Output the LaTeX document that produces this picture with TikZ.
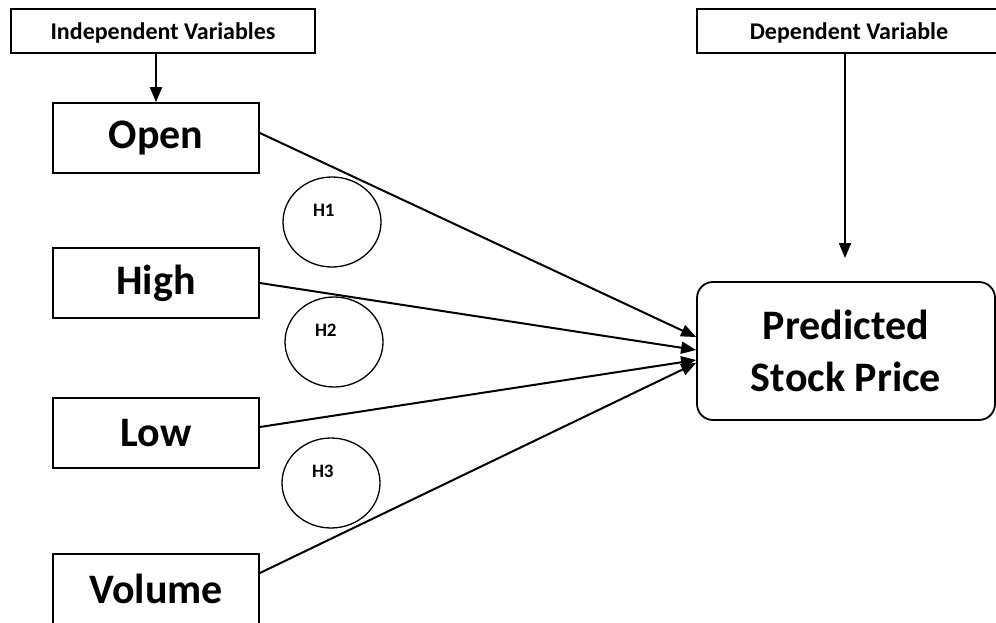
\documentclass[tikz,border=0pt]{standalone}
\usepackage{fontspec}
\setmainfont{Carlito}
\usetikzlibrary{arrows.meta, shapes.geometric}

\begin{document}
\begin{tikzpicture}[x=1pt, y=-1pt,
  headbox/.style={rectangle, draw=black, line width=1.8pt, minimum width=304pt,
    minimum height=44pt, text depth=0pt, font=\fontsize{24}{28}\selectfont\bfseries},
  varbox/.style={rectangle, draw=black, line width=1.8pt, minimum width=206pt,
    minimum height=70pt, font=\fontsize{42}{48}\selectfont\bfseries},
  outbox/.style={rectangle, rounded corners=16pt, draw=black, line width=1.8pt,
    minimum width=298pt, minimum height=138pt, align=center,
    font=\fontsize{42}{52}\selectfont\bfseries},
  hyp/.style={ellipse, draw=black, line width=1.3pt, minimum width=98pt,
    minimum height=90pt, inner sep=0pt, text height=13pt, text depth=25pt,
    text width=38pt, align=left, font=\fontsize{19}{22}\selectfont\bfseries},
  arr/.style={-{Triangle[length=15pt, width=12pt]}, line width=2pt}
]
\useasboundingbox (0,0) rectangle (996,623);
% === Headers ===
\node[headbox] (indep) at (163,31) {Independent Variables};
\node[headbox] (dep) at (849,31) {Dependent Variable};
% === Inputs ===
\node[varbox] (open) at (156,138) {Open};
\node[varbox] (high) at (156,283) {High};
\node[varbox] (low) at (156,433) {Low};
\node[varbox] (volume) at (156,589) {Volume};
% === Output ===
\node[outbox] (pred) at (846,351) {Predicted\\Stock Price};
% === Hypotheses ===
\node[hyp] (h1) at (332,222) {H1};
\node[hyp] (h2) at (334,342) {H2};
\node[hyp] (h3) at (331,483) {H3};
% === Arrows ===
\coordinate (deptip) at (845,258);
\draw[arr] (indep.south -| open.north) -- (open.north);
\draw[arr] (dep.south -| deptip) -- (deptip);
\draw[arr] ([yshift=5pt]open.east) -- ([yshift=14pt]pred.west);
\draw[arr] (high.east) -- ([yshift=1pt]pred.west);
\draw[arr] ([yshift=6pt]low.east) -- ([yshift=-9pt]pred.west);
\draw[arr] ([yshift=16pt]volume.east) -- ([yshift=-12pt]pred.west);
\end{tikzpicture}
\end{document}
